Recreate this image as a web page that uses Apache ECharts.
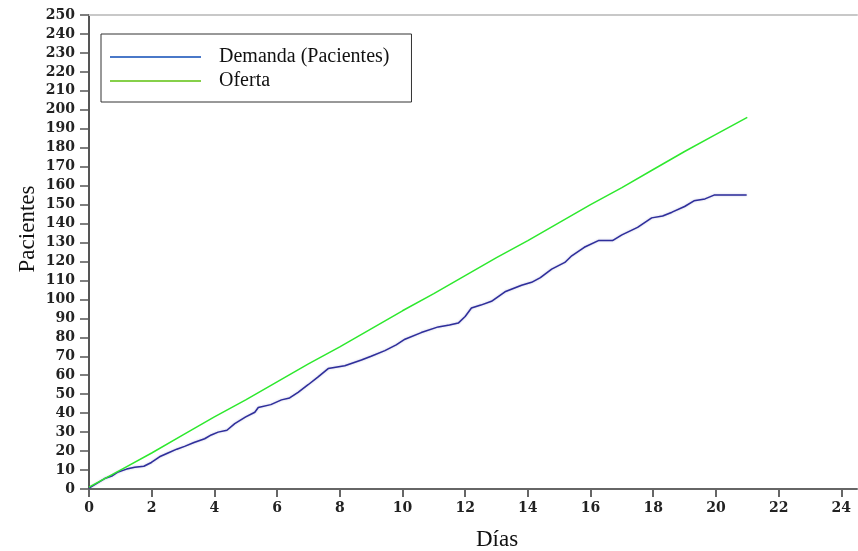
<!DOCTYPE html>
<html>
<head>
<meta charset="utf-8">
<script src="https://cdn.jsdelivr.net/npm/echarts@6/dist/echarts.min.js"></script>
<style>
  html, body { margin: 0; padding: 0; background: #fff; }
  #chart { width: 858px; height: 551px; }
</style>
</head>
<body>
<div id="chart"></div>
<script>
// Cumulative patients over days: demand (patients arriving) vs. offer (capacity)
const demandDays = [0, 0.25, 0.5, 0.75, 0.93, 1.2, 1.46, 1.75, 1.99, 2.25, 2.52, 2.8, 3.05, 3.35, 3.69, 3.9,
  4.12, 4.4, 4.65, 5.0, 5.29, 5.4, 5.8, 6.14, 6.4, 6.67, 6.99, 7.3, 7.63, 8.16, 8.69, 9.0, 9.44, 9.8,
  10.08, 10.6, 11.14, 11.5, 11.78, 12.0, 12.2, 12.5, 12.84, 13.27, 13.8, 14.12, 14.4, 14.76, 15.18,
  15.4, 15.8, 16.25, 16.7, 17.0, 17.5, 17.95, 18.3, 18.6, 19.0, 19.3, 19.65, 19.94, 20.98];
const demandValues = [0.5, 3, 5.5, 7, 9, 10.5, 11.5, 12, 14, 17, 19, 21, 22.5, 24.5, 26.5, 28.5,
  30, 31, 34.5, 38, 40.5, 43, 44.5, 47, 48, 51, 55, 59, 63.5, 65, 68, 70, 73, 76,
  79, 82.5, 85.5, 86.5, 87.5, 91, 95.5, 97, 99, 104, 107.5, 109, 111.5, 116, 119.5,
  123, 127.5, 131, 131, 134, 138, 143, 144, 146, 149, 152, 153, 155, 155];

const offerDays = [0, 1, 2, 3, 4, 5, 6, 7, 8, 9, 10, 11, 12, 13, 14, 15, 16, 17, 18, 19, 20, 21];
const offerValues = [1, 10, 19, 28.5, 38, 47, 56.5, 66, 75, 84.5, 94, 103, 112.5, 122, 131, 140.5, 150, 159, 168.5, 178, 187, 196];

const xTicks = [0, 2, 4, 6, 8, 10, 12, 14, 16, 18, 20, 22, 24];

const seriesNames = ['Demanda (Pacientes)', 'Oferta'];
const xTitle = 'Días';
const yTitle = 'Pacientes';

const zip = (xs, ys) => xs.map((x, i) => [x, ys[i]]);

const serif = 'Liberation Serif';
const tickFont = { fontFamily: 'DejaVu Serif', fontWeight: 'bold', fontSize: 14, color: '#222' };

const chart = echarts.init(document.getElementById('chart'), null, { renderer: 'canvas' });
chart.setOption({
  animation: false,
  backgroundColor: '#fff',
  grid: { left: 89, right: 1, top: 15, bottom: 62, containLabel: false },
  legend: {
    orient: 'vertical',
    left: 101,
    top: 34,
    borderColor: '#333',
    borderWidth: 1,
    padding: [12, 10, 10, 9],
    itemWidth: 91,
    itemHeight: 2,
    itemGap: 2,
    icon: 'rect',
    textStyle: { fontFamily: serif, fontSize: 20, color: '#111', lineHeight: 22, padding: [0, 12, 0, 13] },
    data: [
      { name: seriesNames[0], itemStyle: { color: '#4a78c8' } },
      { name: seriesNames[1], itemStyle: { color: '#86d04a' } }
    ]
  },
  xAxis: [{
    type: 'value',
    min: 0,
    max: 24.5,
    interval: 2,
    axisLine: { show: true, onZero: false, lineStyle: { color: '#666', width: 2 } },
    axisTick: { show: true, length: 8, customValues: xTicks, lineStyle: { color: '#666', width: 2 } },
    axisLabel: { margin: 12, customValues: xTicks, ...tickFont },
    splitLine: { show: false }
  }, {
    type: 'value',
    position: 'top',
    min: 0,
    max: 24.5,
    axisLine: { show: true, onZero: false, lineStyle: { color: '#c8c8c8', width: 2 } },
    axisTick: { show: false },
    axisLabel: { show: false },
    splitLine: { show: false }
  }],
  yAxis: {
    type: 'value',
    min: 0,
    max: 250,
    interval: 10,
    axisLine: { show: true, onZero: false, lineStyle: { color: '#555', width: 2 } },
    axisTick: { show: true, length: 9, lineStyle: { color: '#555', width: 1.5 } },
    axisLabel: { margin: 14, ...tickFont },
    splitLine: { show: false }
  },
  graphic: [
    {
      type: 'text', x: 28, y: 229, rotation: Math.PI / 2,
      style: { text: yTitle, fontFamily: serif, fontSize: 23, fill: '#111', align: 'center', verticalAlign: 'middle' }
    },
    {
      type: 'text', x: 497, y: 540,
      style: { text: xTitle, fontFamily: serif, fontSize: 23, fill: '#111', align: 'center', verticalAlign: 'middle' }
    }
  ],
  series: [
    {
      name: seriesNames[0],
      type: 'line',
      xAxisIndex: 0,
      data: zip(demandDays, demandValues),
      showSymbol: false,
      symbol: 'none',
      lineStyle: { color: '#2e2e9a', width: 1.5, shadowColor: 'rgba(60,60,170,0.35)', shadowBlur: 2 },
      itemStyle: { color: '#2e2e9a' }
    },
    {
      name: seriesNames[1],
      type: 'line',
      xAxisIndex: 0,
      data: zip(offerDays, offerValues),
      showSymbol: false,
      symbol: 'none',
      lineStyle: { color: '#2ee82e', width: 1.5 },
      itemStyle: { color: '#2ee82e' }
    }
  ]
});
</script>
</body>
</html>
